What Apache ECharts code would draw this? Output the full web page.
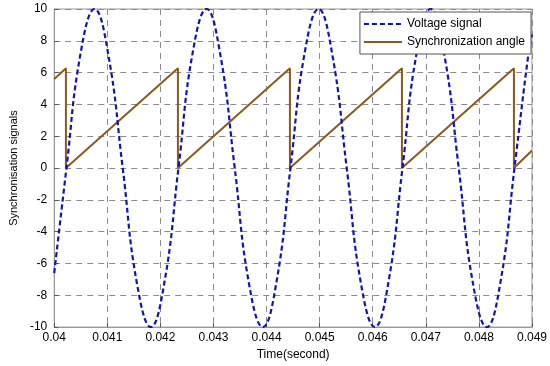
<!DOCTYPE html>
<html>
<head>
<meta charset="utf-8">
<script src="https://cdn.jsdelivr.net/npm/echarts@6/dist/echarts.min.js"></script>
<style>
  html, body { margin: 0; padding: 0; background: #fff; }
</style>
</head>
<body>
<div id="main" style="width: 550px;height:366px;"></div>
<script type="text/javascript">
// values
var voltTime = [0.04, 0.04023, 0.04049, 0.04076, 0.04102, 0.04129, 0.04155, 0.04182, 0.04208,
  0.04234, 0.0426, 0.04287, 0.04313, 0.0434, 0.04366, 0.04393, 0.04419,
  0.04445, 0.04471, 0.04498, 0.04524, 0.04551, 0.04577, 0.04604, 0.0463,
  0.04656, 0.04682, 0.04709, 0.04735, 0.04762, 0.04788, 0.04815, 0.04841,
  0.04867, 0.04893, 0.049];
var voltValue = [-6.6, 0, 7.1, 10, 7.1, 0, -7.1, -10, -7.1,
  0, 7.1, 10, 7.1, 0, -7.1, -10, -7.1,
  0, 7.1, 10, 7.1, 0, -7.1, -10, -7.1,
  0, 7.1, 10, 7.1, 0, -7.1, -10, -7.1,
  0, 7.1, 8.4];

var angleTime = [0.04, 0.04022, 0.04022, 0.04233, 0.04233, 0.04444, 0.04444,
  0.04655, 0.04655, 0.04866, 0.04866, 0.049];
var angleValue = [5.6, 6.28, 0, 6.28, 0, 6.28, 0, 6.28, 0, 6.28, 0, 1.1];

var seriesNames = ['Voltage signal', 'Synchronization angle'];
var xTicks = {min: 0.04, max: 0.049, step: 0.001};
var yTicks = {min: -10, max: 10, step: 2};

function pairs(xs, ys) {
  var out = [];
  for (var i = 0; i < xs.length; i++) out.push([xs[i], ys[i]]);
  return out;
}

var chart = echarts.init(document.getElementById('main'), null, {renderer: 'canvas'});

var gridLine = {show: true, lineStyle: {color: '#8c8c8c', type: [6, 5], width: 1}};

chart.setOption({
  animation: false,
  backgroundColor: '#fff',
  textStyle: {fontFamily: 'Liberation Sans, Arial, sans-serif'},
  grid: {
    left: 44, right: 17, top: 9, bottom: 36,
    show: true, borderColor: '#999', borderWidth: 1, backgroundColor: '#fff'
  },
  legend: {
    data: seriesNames,
    right: 19, top: 12,
    orient: 'vertical',
    backgroundColor: '#fff',
    borderColor: '#555', borderWidth: 1,
    borderRadius: 0,
    padding: [6, 6, 6, 3],
    itemGap: 6,
    itemWidth: 38, itemHeight: 10,
    itemStyle: {opacity: 0},
    textStyle: {fontSize: 12, color: '#000', fontFamily: 'Liberation Sans, Arial, sans-serif'}
  },
  xAxis: {
    type: 'value',
    min: xTicks.min, max: xTicks.max, interval: xTicks.step,
    name: 'Time(second)',
    nameLocation: 'middle',
    nameGap: 20,
    nameTextStyle: {fontSize: 12, color: '#000'},
    axisLine: {show: true, onZero: false, lineStyle: {color: '#999'}},
    axisTick: {show: true, inside: true, length: 4, lineStyle: {color: '#555'}},
    axisLabel: {fontSize: 12, color: '#000', margin: 5,
      formatter: function (v) { return String(+v.toFixed(3)); }},
    splitLine: gridLine
  },
  yAxis: {
    type: 'value',
    min: yTicks.min, max: yTicks.max, interval: yTicks.step,
    name: 'Synchronisation signals',
    nameLocation: 'middle',
    nameGap: 28,
    nameTextStyle: {fontSize: 11, color: '#000'},
    axisLine: {show: true, onZero: false, lineStyle: {color: '#999'}},
    axisTick: {show: true, inside: true, length: 4, lineStyle: {color: '#555'}},
    axisLabel: {fontSize: 12, color: '#000', margin: 7},
    splitLine: gridLine
  },
  series: [
    {
      name: seriesNames[0],
      type: 'line',
      data: pairs(voltTime, voltValue),
      smooth: 0.45,
      symbol: 'none',
      lineStyle: {color: '#1010c4', width: 2.2, type: [5, 3]},
      itemStyle: {color: '#1010c4'},
      z: 3
    },
    {
      name: seriesNames[1],
      type: 'line',
      data: pairs(angleTime, angleValue),
      symbol: 'none',
      lineStyle: {color: '#8b5a1c', width: 2},
      itemStyle: {color: '#8b5a1c'},
      z: 2
    }
  ]
});
</script>
</body>
</html>
